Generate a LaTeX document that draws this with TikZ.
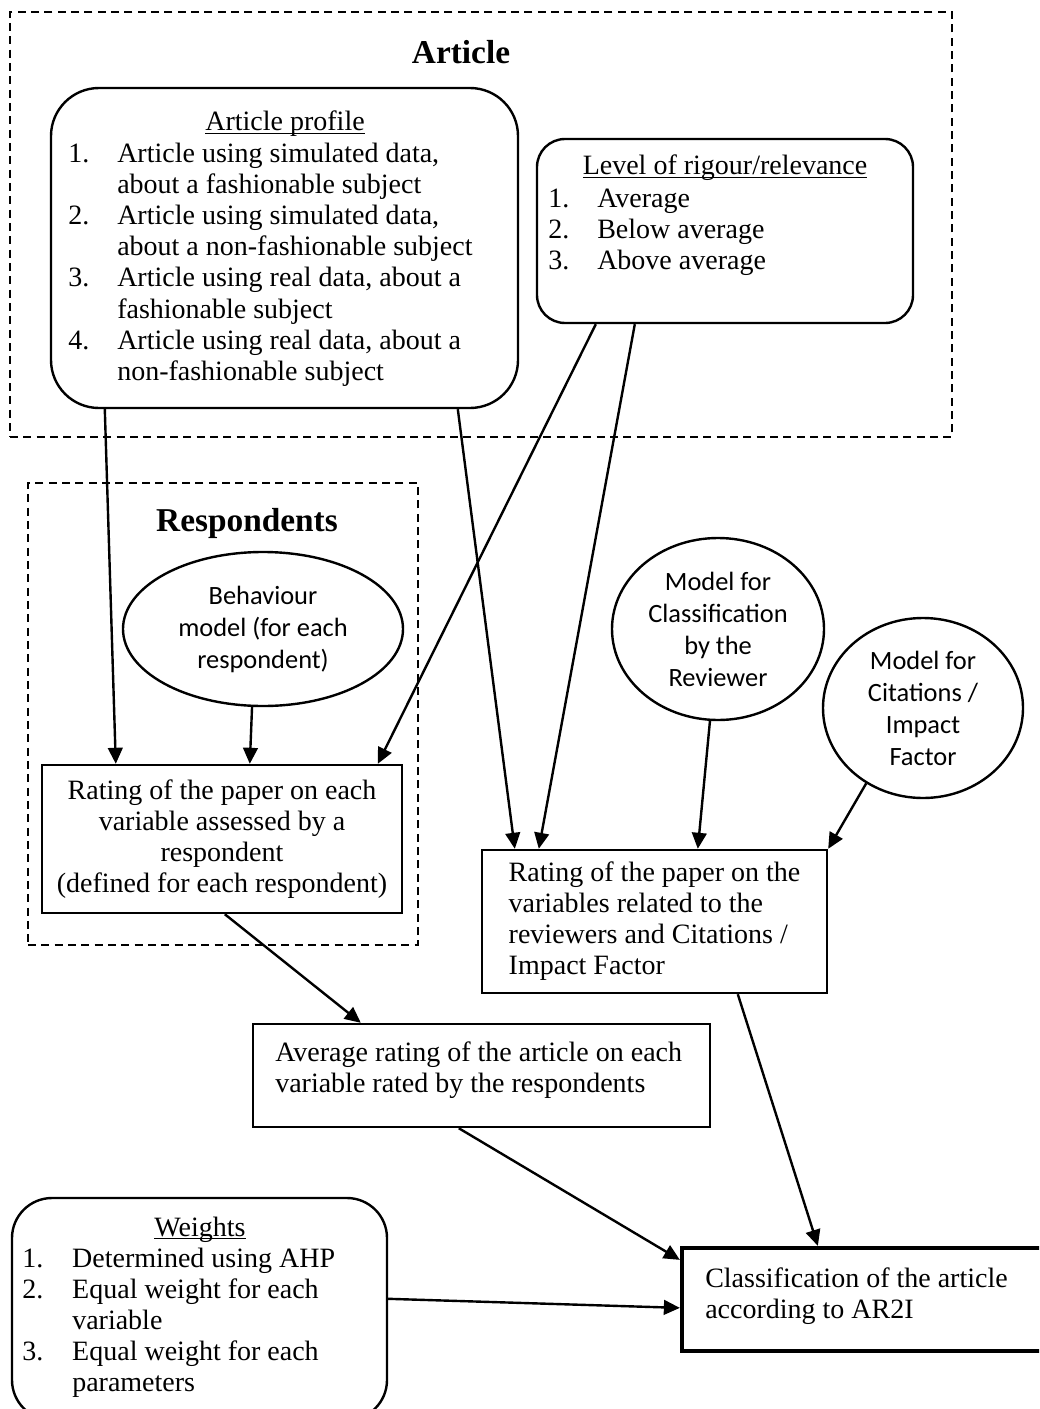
\documentclass[tikz,border=0pt]{standalone}
\usepackage{fontspec}
\setmainfont{Liberation Serif}
\newfontfamily\calibrifont{Carlito}
\usetikzlibrary{arrows.meta,shapes.geometric,fit,calc}

\newcommand\bodysize{\fontsize{21}{23.25}\selectfont}
\newcommand\hd[1]{\underline{\smash{#1}}}

\tikzset{
  frame/.style={draw, line width=1.4, dash pattern=on 6pt off 4pt, inner sep=0pt},
  panel/.style={draw, line width=1.8, rounded corners=36pt, inner sep=0pt},
  box/.style={draw, line width=1.8, inner sep=0pt, font=\bodysize},
  model/.style={draw, ellipse, line width=1.8, inner sep=0pt, align=center,
    font=\calibrifont\fontsize{19.8}{24}\selectfont},
  txt/.style={inner sep=0pt, font=\bodysize},
  head/.style={inner sep=0pt, font=\bfseries\fontsize{25}{30}\selectfont},
  link/.style={line width=1.8, -{Triangle[length=12pt,width=11pt]}},
}

\begin{document}
\begin{tikzpicture}[x=0.75pt,y=0.75pt,yscale=-1,xscale=1]
\useasboundingbox (0,0) rectangle (1039,1409);
\clip (0,0) rectangle (1039,1409);

%Shape: dashed frames
\node[frame, fit={(10,12) (952,437)}] (artframe) {};
\node[head] (arttitle) at (461,52) {Article};
\node[frame, fit={(28,483) (418,945)}] (respframe) {};
\node[head] (resptitle) at (247,523) {Respondents};

%Shape: Article profile
\node[panel, fit={(51,88) (518,408)}] (profile) {};
\node[txt, anchor=base] (profilehead) at (285,131) {\hd{Article profile}};
\node[txt, anchor=base west] (profilelist) at (68,163) {\begin{tabular}[t]{@{}p{36.75pt}@{}l@{}}
1. & Article using simulated data,\\
   & about a fashionable subject\\
2. & Article using simulated data,\\
   & about a non-fashionable subject\\
3. & Article using real data, about a\\
   & fashionable subject\\
4. & Article using real data, about a\\
   & non-fashionable subject
\end{tabular}};

%Shape: Level of rigour
\node[panel, rounded corners=21pt, fit={(537,139) (913,323)}] (level) {};
\node[txt, anchor=base] (levelhead) at (725,175) {\hd{Level of rigour/relevance}};
\node[txt, anchor=base west] (levellist) at (548,207) {\begin{tabular}[t]{@{}p{36.75pt}@{}l@{}}
1. & Average\\
2. & Below average\\
3. & Above average
\end{tabular}};

%Shape: models
\node[model, minimum width=210pt, minimum height=115.5pt] (behav) at (263,629) {Behaviour\\model (for each\\respondent)};
\node[model, minimum width=159pt, minimum height=136.5pt] (modrev) at (718,629) {Model for\\Classification\\by the\\Reviewer};
\node[model, minimum width=150pt, minimum height=135pt] (modcit) at (923,708) {Model for\\Citations /\\Impact\\Factor};

%Shape: ratings
\node[box, minimum width=270pt, minimum height=111pt, align=center] (rateresp) at (222,839) {Rating of the paper on each\\variable assessed by a\\respondent\\(defined for each respondent)};
\node[box, minimum width=258.75pt, minimum height=107.25pt, align=left] (rateoth) at (654.5,921.5) {Rating of the paper on the\\variables related to the\\reviewers and Citations /\\Impact Factor};

\node[box, fit={(253,1024) (710,1127)}] (average) {};
\node[txt, anchor=base west] (averagetxt) at (275,1061) {\begin{tabular}[t]{@{}l@{}}
Average rating of the article on each\\
variable rated by the respondents
\end{tabular}};

%Shape: Weights
\node[panel, rounded corners=30pt, fit={(12,1198) (387,1420)}] (weights) {};
\node[txt, anchor=base] (weightshead) at (200,1236) {\hd{Weights}};
\node[txt, anchor=base west] (weightslist) at (22,1267) {\begin{tabular}[t]{@{}p{37.5pt}@{}l@{}}
1. & Determined using AHP\\
2. & Equal weight for each\\
   & variable\\
3. & Equal weight for each\\
   & parameters
\end{tabular}};

%Shape: Classification
\node[box, line width=3.2, fit={(682,1248) (1060,1351)}] (classif) {};
\node[txt, anchor=base west] (classiftxt) at (705,1287) {\begin{tabular}[t]{@{}l@{}}
Classification of the article\\
according to AR2I
\end{tabular}};

%Straight Lines
\draw[link] ($(profile.south west)+(55,0)$) -- ($(rateresp.north west)+(75,0)$);
\draw[link] ($(profile.south west)+(408,0)$) -- ($(rateoth.north west)+(34,0)$);
\draw[link] ($(level.south west)+(60,0)$) -- ($(rateresp.north west)+(337,0)$);
\draw[link] ($(level.south west)+(99,0)$) -- ($(rateoth.north west)+(58,0)$);
\draw[link] (behav.262) -- ($(rateresp.north west)+(209,0)$);
\draw[link] (modrev.265) -- ($(rateoth.north west)+(217,0)$);
\draw[link] (modcit.233) -- (rateoth.north east);
\draw[link] ($(rateresp.south west)+(184,0)$) -- ($(average.north west)+(109,0)$);
\draw[link] ($(rateoth.south west)+(257,0)$) -- ($(classif.north west)+(138,0)$);
\draw[link] ($(average.south west)+(207,0)$) -- ($(classif.north west)+(0,14)$);
\draw[link] ($(weights.north east)+(0,102)$) -- ($(classif.north west)+(0,62)$);

\end{tikzpicture}
\end{document}
